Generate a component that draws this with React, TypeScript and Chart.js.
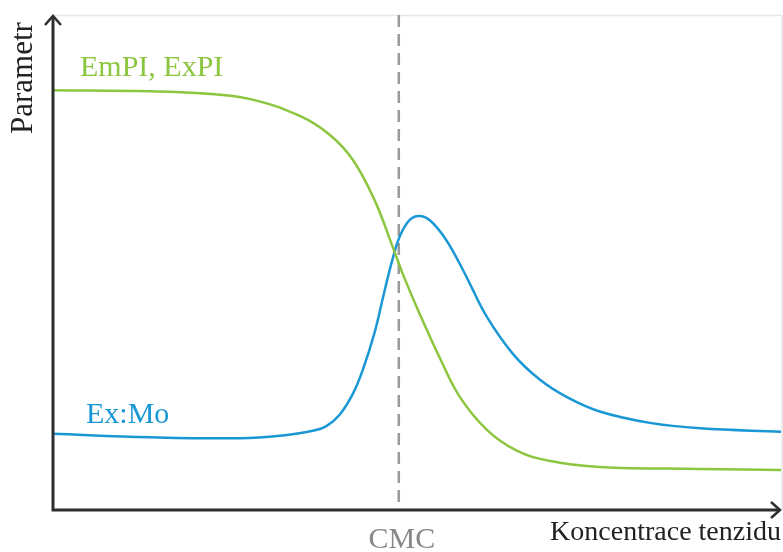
import React, { useEffect, useRef } from "react";
import { Chart, registerables } from "chart.js";

Chart.register(...registerables);

// Concentration (x, 0..100) and parameter (y, 0..100) readings
const greenX = [0, 13.3, 20.2, 27.1, 33.9, 38.0, 41.2, 44.2, 46.7, 48.1, 50.4, 53.2, 55.9, 59.6, 63.7, 68.3, 75.1, 88.9, 100];
const greenY = [84.8, 84.6, 84.2, 83.0, 79.6, 75.8, 70.7, 62.5, 53.0, 47.5, 39.5, 30.5, 22.8, 16.2, 12.0, 9.9, 8.7, 8.3, 8.1];

const blueX = [0, 13.3, 25.7, 31.2, 35.7, 37.6, 39.4, 41.2, 42.6, 44.2, 45.5, 46.7, 47.7, 49.0, 50.3, 51.8, 53.8, 55.6, 57.0, 59.6, 63.2, 66.9, 70.6, 75.1, 82.0, 88.9, 100];
const blueY = [15.4, 14.7, 14.5, 15.0, 16.0, 17.0, 19.3, 23.5, 28.5, 36.0, 44.0, 51.0, 55.5, 58.6, 59.4, 58.5, 55.0, 50.5, 46.5, 39.0, 31.5, 26.3, 22.8, 19.9, 17.6, 16.5, 15.8];

const cmcX = 47.5;

const labels = {
  green: "EmPI, ExPI",
  blue: "Ex:Mo",
  yTitle: "Parametr",
  xTitle: "Koncentrace tenzidu",
  cmc: "CMC",
};

const GREEN = "#8cc63f";
const BLUE = "#1a98d5";

export default function App() {
  const ref = useRef<HTMLCanvasElement | null>(null);

  useEffect(() => {
    document.body.style.margin = "0";
    const canvas = ref.current!;
    const overlay = {
      id: "overlay",
      beforeDatasetsDraw(chart: any) {
        const { ctx, chartArea } = chart;
        const xs = chart.scales.x;
        ctx.save();
        ctx.strokeStyle = "#e6e6e6";
        ctx.lineWidth = 1.5;
        ctx.beginPath();
        ctx.moveTo(chartArea.left, chartArea.top + 0.5);
        ctx.lineTo(chartArea.right + 1, chartArea.top + 0.5);
        ctx.lineTo(chartArea.right + 1, chartArea.bottom);
        ctx.stroke();
        const cx = xs.getPixelForValue(cmcX);
        ctx.strokeStyle = "#9a9a9a";
        ctx.lineWidth = 2.5;
        ctx.setLineDash([12, 7]);
        ctx.beginPath();
        ctx.moveTo(cx, chartArea.top);
        ctx.lineTo(cx, chartArea.bottom);
        ctx.stroke();
        ctx.restore();
      },
      afterDraw(chart: any) {
        const { ctx, chartArea } = chart;
        const xs = chart.scales.x;
        const L = chartArea.left;
        const B = chartArea.bottom;
        ctx.save();
        ctx.strokeStyle = "#2e2e2e";
        ctx.lineWidth = 3;
        ctx.beginPath();
        ctx.moveTo(L, chartArea.top + 1);
        ctx.lineTo(L, B);
        ctx.lineTo(chartArea.right - 1, B);
        ctx.stroke();
        ctx.lineWidth = 2.5;
        ctx.beginPath();
        ctx.moveTo(L - 8, chartArea.top + 10);
        ctx.lineTo(L, chartArea.top + 1);
        ctx.lineTo(L + 8, chartArea.top + 10);
        ctx.stroke();
        ctx.beginPath();
        ctx.moveTo(chartArea.right - 10, B - 8);
        ctx.lineTo(chartArea.right - 1, B);
        ctx.lineTo(chartArea.right - 10, B + 8);
        ctx.stroke();

        ctx.textBaseline = "alphabetic";
        ctx.font = '30px "Liberation Serif"';
        ctx.fillStyle = GREEN;
        ctx.textAlign = "left";
        ctx.fillText(labels.green, 80, 76);
        ctx.fillStyle = BLUE;
        ctx.fillText(labels.blue, 86, 423);

        ctx.fillStyle = "#888888";
        ctx.textAlign = "center";
        ctx.fillText(labels.cmc, xs.getPixelForValue(cmcX) + 3, 548);

        ctx.fillStyle = "#222222";
        ctx.font = '28px "Liberation Serif"';
        ctx.textAlign = "right";
        ctx.fillText(labels.xTitle, 781, 540);

        ctx.save();
        ctx.translate(32, 134);
        ctx.rotate(-Math.PI / 2);
        ctx.font = '31px "Liberation Serif"';
        ctx.textAlign = "left";
        ctx.fillText(labels.yTitle, 0, 0);
        ctx.restore();
        ctx.restore();
      },
    };

    const chart = new Chart(canvas, {
      type: "line",
      data: {
        datasets: [
          {
            label: labels.green,
            data: greenX.map((x, i) => ({ x, y: greenY[i] })),
            borderColor: GREEN,
            borderWidth: 2.5,
            pointRadius: 0,
            tension: 0.4,
            fill: false,
          },
          {
            label: labels.blue,
            data: blueX.map((x, i) => ({ x, y: blueY[i] })),
            borderColor: BLUE,
            borderWidth: 2.5,
            pointRadius: 0,
            tension: 0.4,
            fill: false,
          },
        ],
      },
      options: {
        responsive: false,
        animation: false,
        layout: { padding: { left: 53, right: 2, top: 15, bottom: 42 } },
        plugins: { legend: { display: false }, tooltip: { enabled: false } },
        scales: {
          x: { type: "linear", min: 0, max: 100, display: false },
          y: { type: "linear", min: 0, max: 100, display: false },
        },
      },
      plugins: [overlay],
    });
    return () => chart.destroy();
  }, []);

  return <canvas ref={ref} width={783} height={552} style={{ display: "block" }} />;
}
